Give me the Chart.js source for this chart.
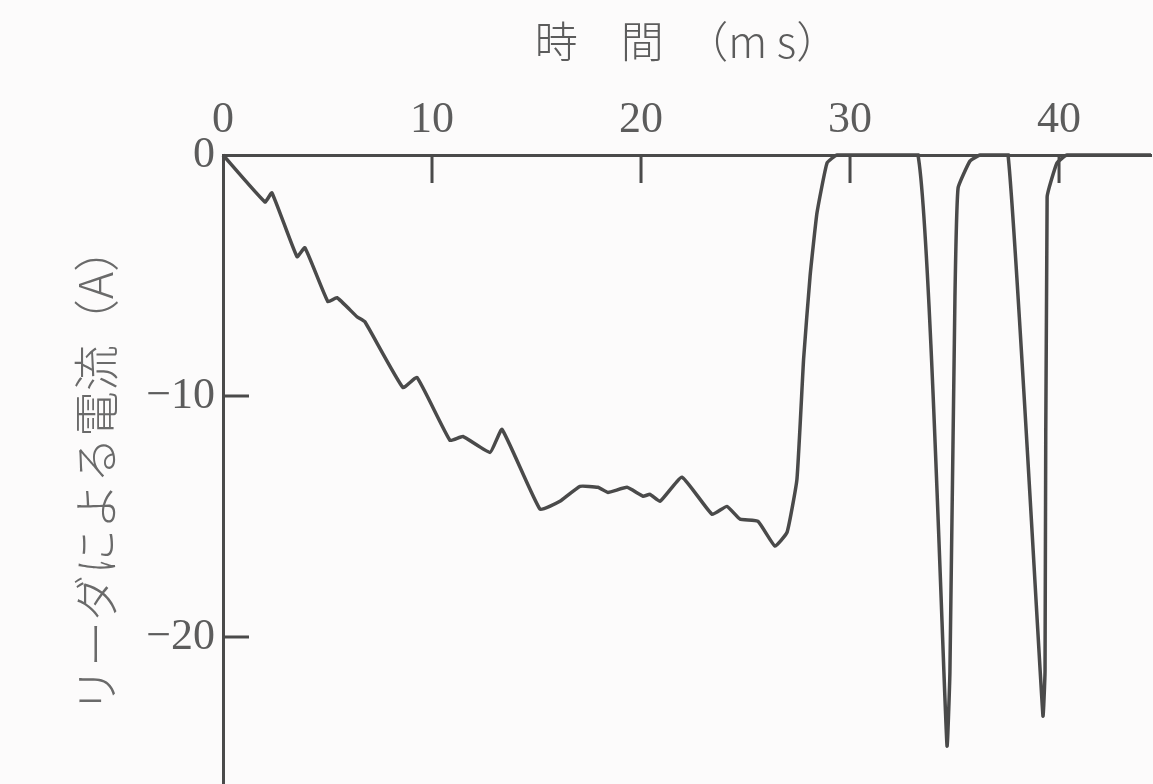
<!DOCTYPE html>
<html>
<head>
<meta charset="utf-8">
<script src="https://cdn.jsdelivr.net/npm/chart.js@4"></script>
<style>
  html, body { margin: 0; padding: 0; background: #fcfbfb; }
  #wrap { width: 1153px; height: 784px; position: relative; }
</style>
</head>
<body>
<div id="wrap"><canvas id="chartLeader"></canvas></div>
<script>
// 時間 (ms) and leader current (A)
const timeMs = [0, 2.01, 2.34, 3.54, 3.92, 5.02, 5.45, 6.41, 6.79, 8.61, 9.28,
  10.86, 11.48, 12.78, 13.35, 15.17, 16.12, 17.08, 17.94, 18.42, 19.33, 20.10,
  20.43, 20.91, 21.96, 23.40, 24.11, 24.74, 25.60, 26.41, 26.99, 27.46,
  27.78, 28.09, 28.42, 28.90, 29.38, 33.25, 34.64, 34.78, 35.02, 35.17, 35.74,
  36.22, 37.56, 39.23, 39.33, 39.43, 39.90, 40.38, 44.4];
const currentA = [0, -1.95, -1.57, -4.22, -3.85, -6.09, -5.92, -6.71, -6.92, -9.65, -9.23,
  -11.84, -11.68, -12.34, -11.39, -14.70, -14.37, -13.75, -13.79, -14.00, -13.79, -14.16,
  -14.08, -14.37, -13.37, -14.91, -14.58, -15.11, -15.20, -16.23, -15.65, -13.46,
  -8.45, -5.01, -2.40, -0.33, 0, 0, -24.51, -21.41, -5.88, -1.37, -0.25,
  0, 0, -23.27, -21.41, -1.74, -0.33, 0, 0];
const xTicks = [0, 10, 20, 30, 40];
const yTicks = [0, -10, -20];

const ink = "#4a4a4a";
const textGray = "#5c5c5c";

const points = timeMs.map((t, i) => ({ x: t, y: currentA[i] }));

// tick marks point into the plot, as in the original
const inwardTicks = {
  id: "inwardTicks",
  afterDatasetsDraw(chart) {
    const { ctx, chartArea, scales } = chart;
    ctx.save();
    ctx.strokeStyle = ink;
    ctx.lineWidth = 3;
    scales.x.ticks.forEach((tk) => {
      if (tk.value === 0) return;
      const px = scales.x.getPixelForValue(tk.value);
      ctx.beginPath();
      ctx.moveTo(px, chartArea.top);
      ctx.lineTo(px, chartArea.top + 28);
      ctx.stroke();
    });
    scales.y.ticks.forEach((tk) => {
      if (tk.value === 0) return;
      const py = scales.y.getPixelForValue(tk.value);
      ctx.beginPath();
      ctx.moveTo(chartArea.left, py);
      ctx.lineTo(chartArea.left + 26, py);
      ctx.stroke();
    });
    ctx.restore();
  },
};

new Chart(document.getElementById("chartLeader"), {
  type: "line",
  data: {
    datasets: [
      {
        data: points,
        borderColor: ink,
        borderWidth: 3.5,
        pointRadius: 0,
        tension: 0.12,
        fill: false,
        clip: 8,
      },
    ],
  },
  options: {
    responsive: true,
    maintainAspectRatio: false,
    animation: false,
    layout: { padding: { right: 2, top: 0, left: 0, bottom: 0 } },
    plugins: { legend: { display: false }, tooltip: { enabled: false } },
    scales: {
      x: {
        type: "linear",
        position: "top",
        min: 0,
        max: 44.4,
        afterBuildTicks: (s) => { s.ticks = xTicks.map((v) => ({ value: v })); },
        afterFit: (s) => { s.height = 155; s.paddingLeft = 0; s.paddingRight = 0; },
        grid: { display: false, drawTicks: false },
        border: { display: true, color: ink, width: 3 },
        ticks: {
          color: textGray,
          padding: 8,
          font: { family: "Liberation Serif", size: 44 },
        },
        title: {
          display: true,
          text: "時　間　（m s）",
          color: textGray,
          padding: { top: 16, bottom: 0 },
          font: { family: "Noto Sans CJK JP", size: 43, weight: 300 },
        },
      },
      y: {
        type: "linear",
        min: -26.1,
        max: 0,
        afterBuildTicks: (s) => { s.ticks = yTicks.map((v) => ({ value: v })); },
        afterFit: (s) => { s.width = 223; s.paddingTop = 0; s.paddingBottom = 0; },
        grid: { display: false, drawTicks: false },
        border: { display: true, color: ink, width: 3 },
        ticks: {
          color: textGray,
          padding: 8,
          font: { family: "Liberation Serif", size: 44 },
          callback: (v) => (v === 0 ? "0" : "−" + Math.abs(v)),
        },
        title: {
          display: true,
          text: "リーダによる電流（A）",
          color: "#6a6a6a",
          padding: { top: 68, bottom: 0 },
          font: { family: "Noto Sans CJK JP", size: 46, weight: 300 },
        },
      },
    },
  },
  plugins: [inwardTicks],
});
</script>
</body>
</html>
